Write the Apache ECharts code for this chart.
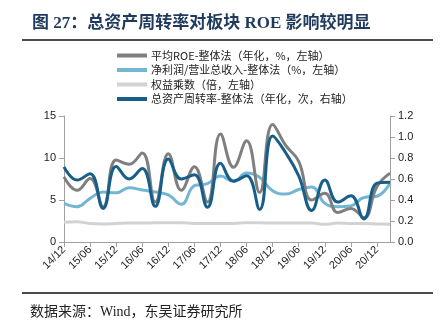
<!DOCTYPE html>
<html><head><meta charset="utf-8">
<script src="https://cdn.jsdelivr.net/npm/echarts@6/dist/echarts.min.js"></script>
<style>html,body{margin:0;padding:0;background:#fff}#c{width:441px;height:328px}</style>
</head><body><div id="c"></div>
<script>
const categories = ['14/12','15/03','15/06','15/09','15/12','16/03','16/06','16/09','16/12','17/03','17/06','17/09','17/12','18/03','18/06','18/09','18/12','19/03','19/06','19/09','19/12','20/03','20/06','20/09','20/12','21/03'];
const roe = [7.75,6.15,7.55,4.2,9.75,9.25,10.6,4.75,10.5,6.15,8.95,4.75,12.85,8.9,12.05,5.9,14.0,11.5,9.6,5.0,5.8,3.5,4.0,2.9,6.6,8.2];
const netMargin = [4.6,4.2,5.2,5.95,5.85,6.45,6.2,5.95,5.6,4.5,6.7,6.95,7.85,7.2,8.2,7.7,6.1,5.7,6.25,6.55,4.6,4.2,4.3,5.3,5.45,7.0];
const equityMult = [2.35,2.4,2.2,2.15,2.2,2.25,2.25,2.3,2.3,2.3,2.2,2.2,2.2,2.2,2.3,2.3,2.25,2.25,2.25,2.25,2.1,2.25,2.2,2.2,2.15,2.1];
const turnover = [0.716,0.59,0.65,0.32,0.72,0.60,0.70,0.34,0.79,0.60,0.64,0.33,0.75,0.58,0.63,0.31,1.01,0.85,0.63,0.30,0.59,0.38,0.44,0.22,0.56,0.57];
const seriesNames = ['平均ROE-整体法（年化，%，左轴）','净利润/营业总收入-整体法（%，左轴）','权益乘数（倍，左轴）','总资产周转率-整体法（年化，次，右轴）'];
const colors = ['#7f7f7f','#72b6d3','#d2d2d2','#175f89'];

const chart = echarts.init(document.getElementById('c'));
const axisLine = {show:true, lineStyle:{color:'#a0a0a0', width:1}};
const lbl = {color:'#222', fontSize:11, fontFamily:'Liberation Sans, Arial'};
function mk(name, data, idx, yIdx){
  return {name, type:'line', data, yAxisIndex:yIdx, smooth:0.45, symbol:'none',
    lineStyle:{color:colors[idx], width:3}, itemStyle:{color:colors[idx]}, z: idx===3?5:(idx===0?4:3)};
}
chart.setOption({
  animation:false,
  color: colors,
  graphic:[
    {type:'text', left:32, top:15, style:{text:'图 27：总资产周转率对板块 ROE 影响较明显', fill:'#1f3a5c', font:'bold 17px "Liberation Serif", "Noto Sans CJK SC"'}},
    {type:'line', shape:{x1:22,y1:40,x2:433,y2:40}, style:{stroke:'#111', lineWidth:1.5}},
    {type:'line', shape:{x1:22,y1:293,x2:433,y2:293}, style:{stroke:'#111', lineWidth:1.5}},
    {type:'text', left:30, top:305, style:{text:'数据来源：Wind，东吴证券研究所', fill:'#222', font:'14px "Liberation Serif", "Noto Sans CJK SC"'}}
  ],
  legend:{orient:'vertical', left:112, top:45, itemWidth:30, itemHeight:4, itemGap:3.5, icon:'rect',
    textStyle:{fontSize:11, color:'#222', fontFamily:'"Noto Sans CJK SC"', padding:[0,0,0,-1]},
    data: seriesNames},
  grid:{left:64, right:51, top:116, bottom:86},
  xAxis:{type:'category', data:categories, boundaryGap:false,
    axisLine:axisLine, axisTick:{show:true, interval:1, lineStyle:{color:'#a0a0a0'}},
    axisLabel:Object.assign({interval:1, rotate:45, margin:6}, lbl), splitLine:{show:false}},
  yAxis:[
    {type:'value', min:0, max:15, interval:5, axisLine:axisLine, axisTick:{show:true, lineStyle:{color:'#a0a0a0'}}, splitLine:{show:false}, axisLabel:Object.assign({margin:8}, lbl)},
    {type:'value', min:0, max:1.2, interval:0.2, axisLine:axisLine, axisTick:{show:true, lineStyle:{color:'#a0a0a0'}}, splitLine:{show:false}, axisLabel:Object.assign({margin:8, formatter:v=>v.toFixed(1)}, lbl)}
  ],
  series:[
    mk(seriesNames[0], roe, 0, 0),
    mk(seriesNames[1], netMargin, 1, 0),
    mk(seriesNames[2], equityMult, 2, 0),
    mk(seriesNames[3], turnover, 3, 1)
  ]
});
</script></body></html>
